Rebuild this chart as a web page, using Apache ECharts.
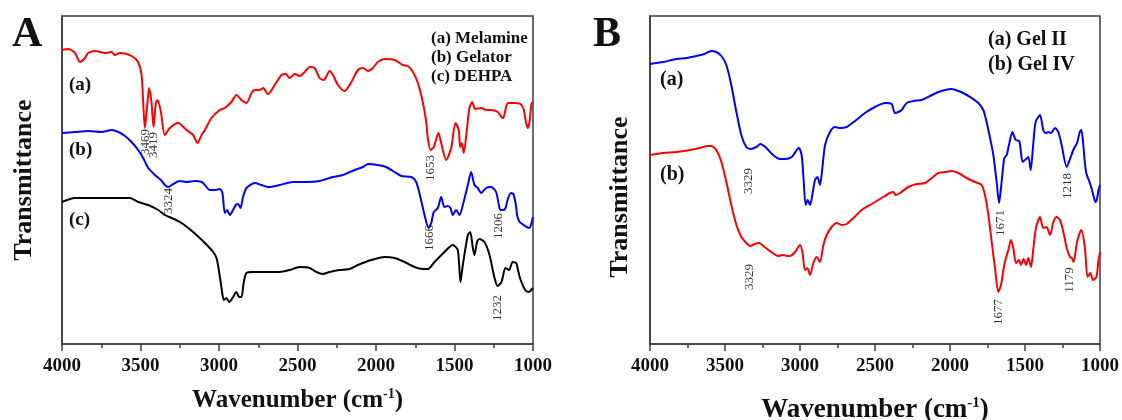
<!DOCTYPE html>
<html><head><meta charset="utf-8">
<script src="https://cdn.jsdelivr.net/npm/echarts@6/dist/echarts.min.js"></script>
<style>html,body{margin:0;padding:0;background:#fff}#c{width:1122px;height:420px}</style>
</head><body><div id="c"></div>
<script>
// ---------- DATA (wavenumber cm^-1, relative transmittance, offset) ----------
const melamine = [[4000,294],[3960,295],[3917,291],[3885,282],[3854,286],[3833,291],[3790,293],[3726,291],[3684,292],[3663,289],[3631,291],[3588,290],[3546,287],[3515,282],[3493,269],[3483,242],[3472,216],[3457,239],[3445,256],[3430,242],[3417,217],[3402,241],[3391,244],[3370,232],[3345,209],[3313,216],[3260,221],[3207,214],[3165,209],[3137,201],[3111,209],[3090,214],[3048,226],[2995,234],[2963,236],[2921,242],[2889,249],[2857,244],[2825,241],[2793,251],[2772,254],[2740,254],[2719,256],[2688,250],[2645,259],[2602,269],[2575,270],[2550,266],[2518,270],[2486,268],[2454,272],[2422,277],[2391,276],[2359,266],[2333,264],[2295,273],[2274,269],[2242,259],[2200,253],[2157,262],[2115,274],[2083,276],[2051,273],[2020,276],[1988,282],[1945,285],[1882,284],[1829,279],[1797,278],[1765,272],[1733,261],[1702,242],[1680,222],[1670,206],[1653,194],[1632,197],[1602,211],[1585,201],[1553,184],[1521,196],[1494,221],[1473,214],[1464,197],[1454,201],[1441,191],[1420,216],[1405,236],[1387,242],[1368,235],[1330,236],[1298,234],[1267,234],[1224,232],[1201,227],[1190,226],[1170,238],[1160,241],[1120,241],[1080,240],[1060,235],[1045,222],[1034,216],[1022,222],[1010,240],[1000,242]];
const gelator = [[4000,211],[3917,212],[3833,213],[3747,212],[3684,214],[3641,212],[3599,208],[3557,202],[3515,194],[3483,186],[3451,176],[3408,169],[3370,164],[3345,159],[3324,157],[3292,160],[3249,163],[3207,162],[3154,163],[3111,162],[3090,159],[3059,154],[3027,154],[2995,155],[2978,151],[2963,131],[2948,134],[2931,129],[2914,133],[2893,139],[2878,140],[2863,136],[2847,147],[2825,156],[2772,161],[2730,159],[2688,157],[2613,159],[2529,162],[2443,162],[2359,163],[2274,167],[2211,169],[2136,174],[2083,177],[2051,180],[1988,179],[1935,177],[1882,172],[1839,168],[1775,167],[1744,162],[1716,146],[1691,129],[1665,116],[1648,121],[1632,132],[1606,136],[1585,147],[1564,137],[1543,138],[1526,136],[1511,129],[1490,134],[1468,129],[1447,139],[1415,159],[1394,172],[1373,159],[1352,156],[1330,151],[1298,156],[1267,157],[1235,152],[1214,136],[1206,134],[1190,134],[1175,136],[1160,145],[1140,151],[1125,150],[1110,140],[1100,128],[1085,122],[1060,119],[1040,117],[1025,116],[1015,118],[1000,127]];
const dehpa = [[4000,142],[3917,146],[3833,146],[3726,146],[3620,146],[3567,146],[3515,142],[3451,139],[3387,134],[3345,129],[3302,126],[3249,122],[3196,116],[3143,109],[3090,101],[3037,92],[3016,86],[2999,72],[2984,56],[2969,44],[2952,46],[2935,42],[2914,46],[2889,52],[2872,47],[2857,47],[2842,62],[2825,71],[2783,72],[2698,72],[2613,72],[2550,74],[2486,77],[2422,76],[2380,72],[2338,70],[2295,72],[2232,74],[2168,75],[2115,79],[2030,84],[1945,87],[1882,86],[1818,82],[1755,77],[1702,75],[1670,75],[1627,82],[1564,92],[1511,99],[1479,94],[1462,62],[1447,79],[1415,109],[1400,112],[1383,96],[1373,89],[1356,102],[1341,105],[1309,102],[1277,89],[1245,66],[1226,58],[1201,62],[1175,76],[1152,74],[1130,82],[1107,81],[1085,67],[1050,54],[1028,52],[1000,56]];
const gelII = [[4000,280],[3913,282],[3824,285],[3758,286],[3691,288],[3636,290],[3591,293],[3558,292],[3524,288],[3491,279],[3458,259],[3424,232],[3391,209],[3358,197],[3329,195],[3291,197],[3264,200],[3224,196],[3180,189],[3135,185],[3100,185],[3055,187],[3022,194],[3007,196],[2989,189],[2978,169],[2962,139],[2949,144],[2933,139],[2918,149],[2900,164],[2884,167],[2867,159],[2851,176],[2833,199],[2800,212],[2767,217],[2733,216],[2689,217],[2633,223],[2567,231],[2500,237],[2433,241],[2389,240],[2367,231],[2344,232],[2322,234],[2289,241],[2244,243],[2189,244],[2133,248],[2078,252],[2033,254],[1989,255],[1944,253],[1900,250],[1856,246],[1811,241],[1778,234],[1756,222],[1733,206],[1711,189],[1689,162],[1673,141],[1656,162],[1638,186],[1622,189],[1607,199],[1584,212],[1562,204],[1538,203],[1516,182],[1500,184],[1478,187],[1462,174],[1444,202],[1429,222],[1400,229],[1378,214],[1362,211],[1344,212],[1327,211],[1300,216],[1278,212],[1256,199],[1222,177],[1200,185],[1175,195],[1153,201],[1135,212],[1125,214],[1115,205],[1100,180],[1090,170],[1070,162],[1055,155],[1040,146],[1030,142],[1020,145],[1010,154],[1000,159]];
const gelIV = [[4000,189],[3913,191],[3824,192],[3736,194],[3669,196],[3613,198],[3591,198],[3558,194],[3524,182],[3491,162],[3458,139],[3424,119],[3391,107],[3358,101],[3331,98],[3302,100],[3273,101],[3236,97],[3191,92],[3147,88],[3113,89],[3080,88],[3067,88],[3033,92],[3000,99],[2984,92],[2967,74],[2951,76],[2933,69],[2911,81],[2889,87],[2867,82],[2844,99],[2822,109],[2789,117],[2756,121],[2722,119],[2689,120],[2644,126],[2589,134],[2522,140],[2456,146],[2400,151],[2378,152],[2362,149],[2333,151],[2278,157],[2222,160],[2167,161],[2122,166],[2078,171],[2033,172],[1989,173],[1944,171],[1889,166],[1833,162],[1789,159],[1767,149],[1744,129],[1722,102],[1700,76],[1678,52],[1660,59],[1642,76],[1627,86],[1611,94],[1593,104],[1578,96],[1560,81],[1540,84],[1527,79],[1509,85],[1493,79],[1478,86],[1460,77],[1444,96],[1427,116],[1400,127],[1378,116],[1356,117],[1333,109],[1311,122],[1289,127],[1267,124],[1244,112],[1222,96],[1200,87],[1188,86],[1176,82],[1153,102],[1125,114],[1101,97],[1083,67],[1064,71],[1047,64],[1024,67],[1012,81],[1000,92]];

// peak annotations: label text, wavenumber, height
const peakTextA = ['3469','3419','3324','1653','1666','1206','1232'];
const peakXA    = [3469, 3419, 3324, 1653, 1660, 1222, 1228];
const peakYA    = [202, 199, 143, 176, 106, 118, 36];
const peakTextB = ['3329','3329','1671','1677','1218','1179'];
const peakXB    = [3340, 3335, 1660, 1673, 1213, 1200];
const peakYB    = [163, 67, 121, 32, 158, 64];

const xTicks = [4000,3500,3000,2500,2000,1500,1000];
const legendA = ['(a) Melamine','(b) Gelator','(c) DEHPA'];
const legendB = ['(a) Gel II','(b) Gel IV'];
const xTitle = 'Wavenumber (cm{sup|-1})';
const yTitle = 'Transmittance';

// ---------- CHART ----------
const SERIF = '"Liberation Serif","Times New Roman",serif';
const frame = '#3c3c3c';
const chart = echarts.init(document.getElementById('c'), null, {renderer:'canvas'});

function xAxisCfg(gi, gap, fs){
  return {
    type:'value', gridIndex:gi, min:1000, max:4000, interval:500, inverse:true,
    axisLine:{show:true, onZero:false, lineStyle:{color:frame, width:1.5}},
    axisTick:{show:true, length:7, lineStyle:{color:frame, width:1.5}},
    minorTick:{show:true, splitNumber:2, length:4, lineStyle:{color:frame, width:1.5}},
    splitLine:{show:false}, minorSplitLine:{show:false},
    axisLabel:{margin:13, fontFamily:SERIF, fontWeight:'bold', fontSize:19, color:'#111',
      formatter:v=> xTicks.indexOf(v)>=0 ? String(v) : ''},
    name:xTitle, nameLocation:'middle', nameGap:gap,
    nameTextStyle:{fontFamily:SERIF, fontWeight:'bold', fontSize:fs, color:'#111',
      rich:{sup:{fontFamily:SERIF, fontWeight:'bold', fontSize:Math.round(fs*0.55), color:'#111', verticalAlign:'top', padding:[0,0,fs*0.5,0]}}}
  };
}
function yAxisCfg(gi){
  return {type:'value', gridIndex:gi, min:0, max:328,
    axisLine:{show:true, lineStyle:{color:frame, width:1.5}},
    axisTick:{show:false}, axisLabel:{show:false}, splitLine:{show:false}};
}
function line(name, data, color, xi){
  return {name, type:'line', xAxisIndex:xi, yAxisIndex:xi, data, showSymbol:false, symbol:'none',
    smooth:0.25, lineStyle:{color, width:2}, itemStyle:{color}, z:3, animation:false};
}
function peaks(texts, xs, ys, xi, fs){
  return {type:'scatter', xAxisIndex:xi, yAxisIndex:xi, symbolSize:0, silent:true, animation:false,
    data: texts.map((t,i)=>[xs[i], ys[i], t]),
    label:{show:true, position:'inside', rotate:90, formatter:p=>p.value[2],
      fontFamily:SERIF, fontSize:fs, color:'#000'}};
}
function txt(x,y,text,font,opts){
  return Object.assign({type:'text', x, y, silent:true,
    style:Object.assign({text, font, fill:'#111', textAlign:'left', textVerticalAlign:'middle'}, opts||{})});
}
const bold = s=>'bold '+s+'px '+SERIF;

chart.setOption({
  backgroundColor:'#fff',
  animation:false,
  grid:[
    {left:62, right:1122-533, top:16, bottom:420-344, show:true, borderColor:frame, borderWidth:1.5, backgroundColor:'transparent', containLabel:false, outerBoundsMode:'none'},
    {left:650, right:22, top:16, bottom:420-344, show:true, borderColor:frame, borderWidth:1.5, backgroundColor:'transparent', containLabel:false, outerBoundsMode:'none'}
  ],
  xAxis:[xAxisCfg(0, 43, 25), xAxisCfg(1, 52, 27)],
  yAxis:[yAxisCfg(0), yAxisCfg(1)],
  series:[
    line('Melamine', melamine, '#ff0000', 0),
    line('Gelator', gelator, '#0000ff', 0),
    line('DEHPA', dehpa, '#000000', 0),
    line('Gel II', gelII, '#0000ff', 1),
    line('Gel IV', gelIV, '#ff0000', 1),
    peaks(peakTextA, peakXA, peakYA, 0, 13),
    peaks(peakTextB, peakXB, peakYB, 1, 13)
  ],
  graphic:[
    txt(12, 35, 'A', bold(42)),
    txt(593, 35, 'B', bold(42)),
    txt(69, 85, '(a)', bold(19)),
    txt(69, 150, '(b)', bold(19)),
    txt(69, 220, '(c)', bold(19)),
    txt(431, 39, legendA[0], bold(17)),
    txt(431, 58, legendA[1], bold(17)),
    txt(431, 77, legendA[2], bold(17)),
    txt(660, 80, '(a)', bold(20)),
    txt(660, 175, '(b)', bold(20)),
    txt(988, 40, legendB[0], bold(20)),
    txt(988, 65, legendB[1], bold(20)),
    Object.assign(txt(24, 180, yTitle, bold(26), {textAlign:'center'}), {rotation:Math.PI/2}),
    Object.assign(txt(620, 197, yTitle, bold(26), {textAlign:'center'}), {rotation:Math.PI/2})
  ]
});
</script></body></html>
